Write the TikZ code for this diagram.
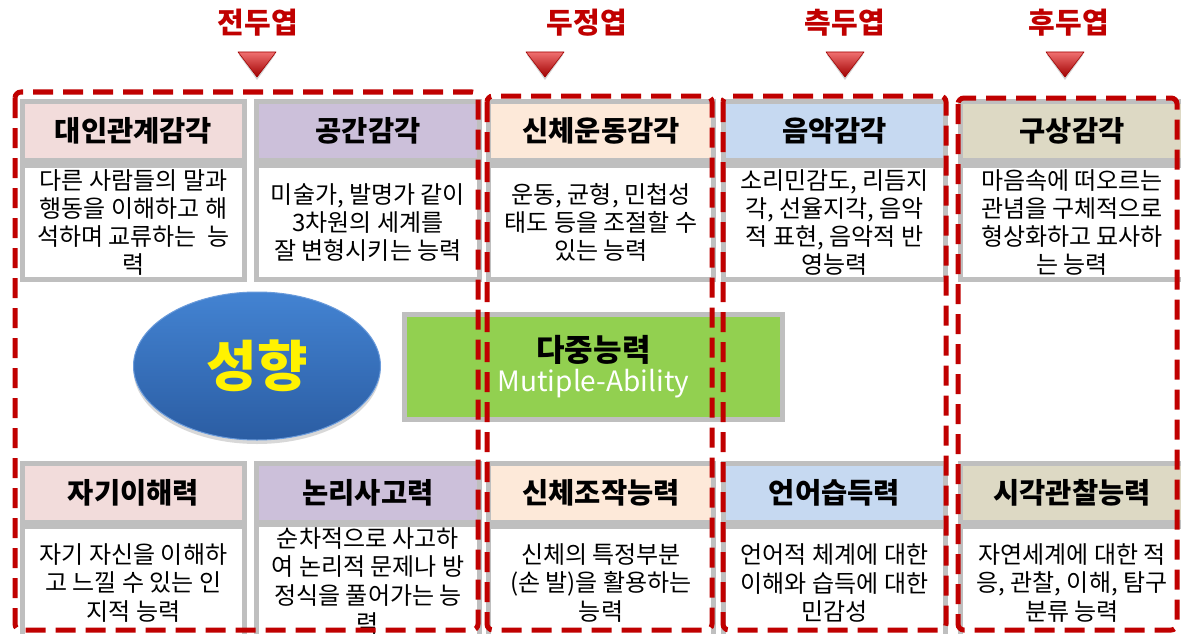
\documentclass[tikz,border=0pt]{standalone}
\usepackage{fontspec}
\setmainfont{Noto Sans CJK KR}
\usetikzlibrary{shadows,shapes.geometric}
\definecolor{dred}{HTML}{C00000}
\definecolor{gborder}{HTML}{BFBFBF}
\definecolor{hpink}{HTML}{F2DCDB}
\definecolor{hlav}{HTML}{CCC0DA}
\definecolor{hpeach}{HTML}{FDE9D9}
\definecolor{hblue}{HTML}{C6D9F1}
\definecolor{htan}{HTML}{DDD9C4}
\definecolor{lgreen}{HTML}{92D050}
\definecolor{ellTop}{HTML}{4383D2}
\definecolor{ellBot}{HTML}{2B5DA3}
\definecolor{ellRim}{HTML}{6A9BDB}
\definecolor{triTop}{HTML}{F07070}
\definecolor{triBot}{HTML}{A00000}
\begin{document}
\begin{tikzpicture}[x=1pt,y=-1pt,
  hdr/.style={draw=gborder, line width=5pt, inner sep=0pt, minimum height=59pt,
    font=\fontsize{28.5}{32}\selectfont\bfseries, text=black},
  bdy/.style={draw=gborder, fill=white, line width=5pt, inner sep=0pt, align=center,
    minimum height=114pt, font=\fontsize{24}{28.3}\selectfont, text=black},
  lobe/.style={font=\fontsize{29}{32}\selectfont\bfseries, text=dred, inner sep=0pt},
  redbox/.style={draw=dred, line width=5pt, dash pattern=on 20pt off 10pt, rounded corners=6pt},
  tri/.style={top color=triTop, bottom color=triBot, draw=triBot, line width=0.6pt, line join=round}
]
\useasboundingbox (0,0) rectangle (1181,634);
\clip (0,0) rectangle (1181,634);
\fill[white] (0,0) rectangle (1181,634);

% ---- lobe titles and arrows
\node[lobe] (t1) at (258,23) {전두엽};
\node[lobe] (t2) at (587,23) {두정엽};
\node[lobe] (t3) at (845,23) {측두엽};
\node[lobe] (t4) at (1069,23) {후두엽};
\foreach \cx in {257,545,845,1065}{
  \fill[black,opacity=0.18] (\cx-18,55) -- (\cx+18,55) -- (\cx,80) -- cycle;
  \path[tri] (\cx-19,52) -- (\cx+19,52) -- (\cx,77) -- cycle;
}

% ---- top row cells
\node[bdy, minimum width=222pt] (b1) at (133.5,222.5) {다른 사람들의 말과\\행동을 이해하고 해\\석하며 교류하는\ \ 능\\력};
\node[hdr, fill=hpink, minimum width=222pt] (h1) at (133.5,131) {대인관계감각};
\node[bdy, minimum width=223pt] (b2) at (368,222.5) {미술가, 발명가 같이\\3차원의 세계를\\잘 변형시키는 능력};
\node[hdr, fill=hlav, minimum width=223pt] (h2) at (368,131) {공간감각};
\node[bdy, minimum width=225pt] (b3) at (601,222.5) {운동, 균형, 민첩성\\태도 등을 조절할 수\\있는 능력};
\node[hdr, fill=hpeach, minimum width=225pt] (h3) at (601,131) {신체운동감각};
\node[bdy, minimum width=222pt] (b4) at (834.5,222.5) {소리민감도, 리듬지\\각, 선율지각, 음악\\적 표현, 음악적 반\\영능력};
\node[hdr, fill=hblue, minimum width=222pt] (h4) at (834.5,131) {음악감각};
\node[bdy, minimum width=223pt] (b5) at (1072,222.5) {마음속에 떠오르는\\관념을 구체적으로\\형상화하고 묘사하\\는 능력};
\node[hdr, fill=htan, minimum width=223pt] (h5) at (1072,131) {구상감각};

% ---- bottom row cells
\node[bdy, minimum width=222pt] (c1) at (133.5,583) {자기 자신을 이해하\\고 느낄 수 있는 인\\지적 능력};
\node[hdr, fill=hpink, minimum width=222pt] (g1) at (133.5,492.5) {자기이해력};
\node[bdy, minimum width=223pt] (c2) at (368,581) {순차적으로 사고하\\여 논리적 문제나 방\\정식을 풀어가는 능\\력};
\node[hdr, fill=hlav, minimum width=223pt] (g2) at (368,492.5) {논리사고력};
\node[bdy, minimum width=225pt] (c3) at (601,583) {신체의 특정부분\\(손 발)을 활용하는\\능력};
\node[hdr, fill=hpeach, minimum width=225pt] (g3) at (601,492.5) {신체조작능력};
\node[bdy, minimum width=222pt] (c4) at (834.5,583) {언어적 체계에 대한\\이해와 습득에 대한\\민감성};
\node[hdr, fill=hblue, minimum width=222pt] (g4) at (834.5,492.5) {언어습득력};
\node[bdy, minimum width=223pt] (c5) at (1072,583) {자연세계에 대한 적\\응, 관찰, 이해, 탐구\\분류 능력};
\node[hdr, fill=htan, minimum width=223pt] (g5) at (1072,492.5) {시각관찰능력};

% ---- centre: ellipse and green box
\node[ellipse, minimum width=247pt, minimum height=148pt, inner sep=0pt,
  top color=ellTop, bottom color=ellBot, draw=ellRim, line width=1pt,
  drop shadow={shadow xshift=0pt, shadow yshift=-4pt, opacity=0.3},
  font=\fontsize{55}{60}\selectfont\bfseries, text={yellow}] (pers) at (257,366) {성향};
\node[draw=gborder, fill=lgreen, line width=5pt, minimum width=378pt, minimum height=105pt,
  inner sep=0pt, align=center] (multi) at (593.5,367)
  {{\fontsize{31}{34}\selectfont\bfseries 다중능력}\\[4pt]{\fontsize{28}{34}\selectfont\color{white}Mutiple-Ability}};

% ---- red dashed lobe frames
\draw[redbox] (15,92) rectangle (478,630);
\draw[redbox] (487,96) rectangle (712,630);
\draw[redbox] (723,96) rectangle (946,630);
\draw[redbox] (958,98) rectangle (1177,630);
\end{tikzpicture}
\end{document}
